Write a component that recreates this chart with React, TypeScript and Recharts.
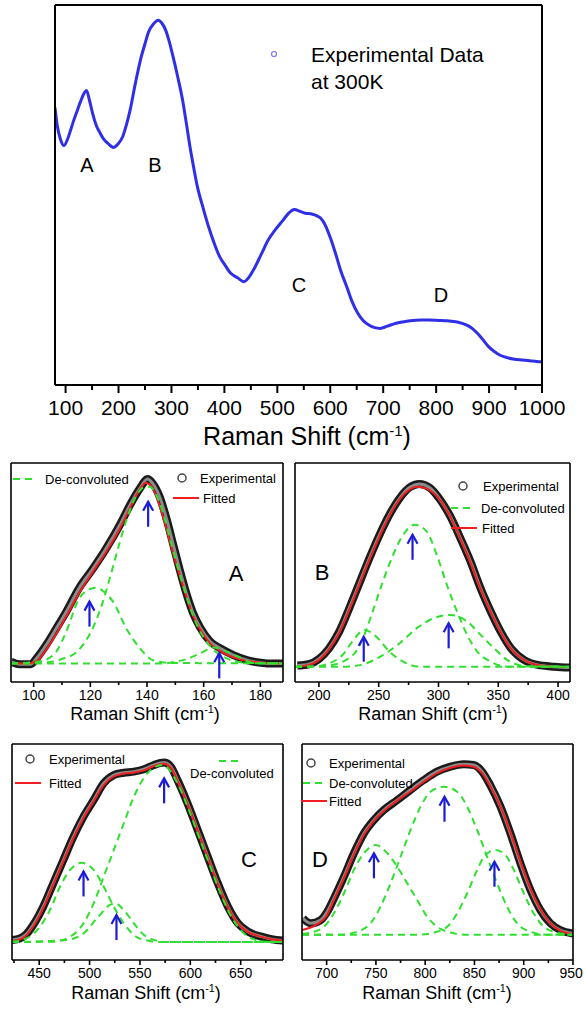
import React from 'react';
import { ComposedChart, Line, Scatter, XAxis, YAxis } from 'recharts';

type Pair = [number, number];

// ---- overview spectrum (Raman shift, intensity a.u.) ----
const overview: Pair[] = [
  [80, 73], [84, 68.5], [90, 64.8], [97, 63], [104, 64.8], [110, 67.3], [116, 69.9], [122, 72.2],
  [128, 74.5], [134, 76.5], [139.5, 77.5], [145, 75], [151, 71.5], [158, 68.3], [165.6, 66.2],
  [173, 64.5], [180, 63.6], [190, 62.5], [199, 63.4], [208, 65.4], [215, 68.5], [222, 72.4],
  [232, 79.5], [243, 86.4], [250, 89.8], [257, 93], [266, 95], [275, 96], [282, 95.2], [289, 93.4],
  [296, 90.3], [303, 86.4], [312, 81], [321, 75], [328, 69], [335, 62.7], [342, 57.2], [349, 52.2],
  [360, 46.5], [370, 41.7], [380, 37.6], [391, 33.8], [400, 31.8], [412, 29.4], [425, 28.2],
  [437, 27.2], [446, 28.3], [455, 30.3], [470, 34.5], [483, 38.2], [497, 41], [511, 43.4],
  [522, 45.3], [532, 46.2], [543, 45.7], [553, 45.2], [565, 45], [575, 44.5], [582, 43.9],
  [589, 42.5], [600, 38.8], [610, 34.6], [620, 30], [631, 25.9], [641, 22], [652, 18.9], [662, 17],
  [673, 15.8], [684, 15.1], [694, 14.9], [708, 15.5], [723, 16.2], [737, 16.6], [751, 16.9],
  [770, 17.1], [786, 17.1], [805, 17], [821, 16.9], [840, 16.6], [857, 15.8], [868, 14.9],
  [878, 13.6], [888, 12], [899, 10.1], [910, 8.8], [920, 7.9], [934, 7.2], [948, 6.8], [962, 6.6],
  [977, 6.4], [990, 6.2], [1000, 6.1],
];
const overviewTicks = [100, 200, 300, 400, 500, 600, 700, 800, 900, 1000];
const overviewMinor = [150, 250, 350, 450, 550, 650, 750, 850, 950];

// ---- band A ----
const aExp: Pair[] = [
  [92, 9.3], [95, 8.1], [99, 8.1], [101, 10.8], [104.4, 16.9], [108, 24.5], [111.5, 32.1], [116, 42.8],
  [121, 51.9], [125.6, 61], [130.4, 71.7], [134, 80.8], [137.5, 88.4], [140.2, 92.7], [142, 90.7],
  [144.5, 84.5], [147, 74], [149.3, 62.5], [151.6, 51], [154, 40], [156.4, 31], [158.7, 25],
  [162.3, 18.5], [165.8, 15.4], [170.5, 12.3], [175.3, 10], [178.8, 9], [182.4, 8.5], [188, 8.5],
];
const aFit: Pair[] = [
  [92, 8.5], [98, 8.5], [101, 9.5], [104, 14], [108, 22], [111.5, 30], [116, 40.5], [121, 50.5],
  [125.6, 59.5], [130.4, 70], [134, 79.5], [137, 87], [139.5, 91], [141.5, 89.5], [143.5, 84],
  [146, 74], [148.5, 62], [151, 51], [153.5, 40.5], [156, 31], [158.5, 24.5], [162, 18], [166, 14],
  [171, 11], [176, 9.5], [182, 8.7], [188, 8.5],
];
const aPeak1: Pair[] = [
  [92, 8.5], [105, 9], [110, 10.5], [115, 13.5], [118, 18], [121, 25], [124, 35], [127, 48], [130, 62],
  [133, 75], [136, 84.5], [139, 89], [141, 89.2], [143, 86], [145.5, 78], [148, 66], [150.5, 54],
  [153, 43], [155.5, 33], [158, 25], [161, 18.5], [164, 14], [167, 11.5], [171, 9.5], [176, 8.7],
  [188, 8.5],
];
const aPeak2: Pair[] = [
  [92, 8.5], [100, 9], [104, 10], [108, 13.9], [111.5, 23], [116, 38], [119, 42], [122, 43], [125, 41],
  [128, 36.7], [132.7, 24.5], [137.5, 15.4], [142, 10], [148, 8.7], [188, 8.5],
];
const aPeak3: Pair[] = [
  [92, 8.5], [145.7, 8.5], [149, 9], [154, 10.5], [158.7, 13], [163.5, 15.7], [168, 14], [173, 11],
  [177.6, 8.7], [182, 8.5], [188, 8.5],
];
const aArrows: Pair[] = [[119.7, 36.7], [140.4, 82.3], [165.5, 13.1]];

// ---- band B ----
const bExp: Pair[] = [
  [182, 7.5], [191.5, 8.1], [200, 10.5], [208.5, 15.4], [217, 23], [225.4, 33.7], [233.8, 45.1],
  [242.3, 56.6], [250.7, 67.2], [259, 76.4], [267.6, 84], [276, 88.9], [284, 90.4], [293, 88.6],
  [301.4, 83.2], [309.9, 75.6], [318.3, 65.7], [326.8, 55], [335.2, 42.8], [343.7, 32.2], [352, 23],
  [360.6, 15.4], [371.8, 10], [383, 7.8], [397, 7], [410, 6.6],
];
const bFit: Pair[] = [
  [182, 7], [191.5, 7.8], [200, 10], [208.5, 15], [217, 22.5], [225.4, 33], [233.8, 44.5], [242.3, 56],
  [250.7, 66.5], [259, 76], [267.6, 83.5], [276, 88], [282, 89.2], [290, 88.3], [301.4, 83],
  [309.9, 75.5], [318.3, 65.5], [326.8, 54.5], [335.2, 42.5], [343.7, 32], [352, 22.8], [360.6, 15.2],
  [371.8, 10], [383, 7.8], [397, 7], [410, 6.8],
];
const bPeak1: Pair[] = [
  [180, 7], [200, 7.2], [211.3, 7.8], [222.5, 10], [231, 13.9], [238, 21.5], [245, 32.2], [253.5, 45.9],
  [262, 58], [270.4, 67.2], [280.3, 71.8], [290, 68.8], [298.6, 58], [307, 44.4], [315.5, 32.2],
  [324, 21.5], [332.4, 13.9], [343.7, 9.3], [357.7, 7], [410, 7],
];
const bPeak2: Pair[] = [
  [180, 7], [194.4, 7], [208.5, 8.5], [219.7, 12.3], [228, 18.4], [238, 23.8], [248, 20.7], [259, 13.9],
  [270.4, 9.3], [284.5, 7], [410, 7],
];
const bPeak3: Pair[] = [
  [180, 7], [222.5, 7], [239.4, 8.5], [253.5, 12.3], [267.6, 17.7], [281.7, 24.5], [295.8, 29.1],
  [309.9, 30.6], [324, 27.6], [335.2, 21.5], [346.5, 15.4], [357.7, 10], [374.6, 7.2], [410, 7],
];
const bArrows: Pair[] = [[278.3, 67.2], [237.5, 20.7], [308.5, 26.8]];

// ---- band C ----
const cExp: Pair[] = [
  [423, 9.3], [430.7, 10], [437.3, 12], [444, 16.2], [454, 24.7], [464, 35.5], [474, 46.3], [484, 57.1],
  [494, 66.4], [504, 74], [514, 81.8], [524, 85.6], [534, 86.7], [544, 87.2], [554, 88.3], [564, 90.3],
  [574, 91.4], [580.7, 89.5], [587.3, 83.3], [597.3, 72.5], [607.3, 60.2], [617.3, 47.8],
  [627.3, 35.5], [637.3, 24.7], [647.3, 17], [657.3, 13.1], [670.7, 10.8], [680.7, 9.6], [692, 9],
];
const cFit: Pair[] = [
  [423, 8.8], [430.7, 9.5], [437.3, 11.5], [444, 15.5], [454, 24], [464, 35], [474, 45.8], [484, 56.5],
  [494, 65.8], [504, 73.5], [514, 81], [524, 85], [534, 86.3], [544, 86.8], [554, 87.8], [564, 89.8],
  [574, 90.8], [580.7, 89], [587.3, 83], [597.3, 72.2], [607.3, 60], [617.3, 47.5], [627.3, 35.2],
  [637.3, 24.5], [647.3, 17], [657.3, 13], [670.7, 10.7], [680.7, 9.6], [692, 9],
];
const cPeak1: Pair[] = [
  [423, 8.3], [464, 8.5], [480.7, 10.8], [494, 17], [504, 26.2], [514, 38.6], [524, 50.9], [534, 63.3],
  [544, 75.6], [557.3, 86.4], [572.3, 90.3], [587.3, 81.8], [597.3, 71], [607.3, 58.6], [617.3, 46.3],
  [627.3, 34], [637.3, 23.1], [647.3, 15.4], [657.3, 10.8], [674, 8.5], [692, 8.3],
];
const cPeak2: Pair[] = [
  [423, 8.5], [437.3, 10], [450.7, 15.4], [460.7, 23.1], [470.7, 34], [480.7, 41.7], [492.3, 45],
  [504, 41.7], [514, 34], [524, 24.7], [534, 17], [544, 11.6], [557.3, 9], [574, 8.3], [692, 8.3],
];
const cPeak3: Pair[] = [
  [423, 8.3], [477.3, 9.3], [494, 12.3], [507.3, 19.3], [520.7, 25.6], [525.7, 26.2], [534, 23.1],
  [544, 17], [554, 11.6], [564, 9.3], [577.3, 8.3], [692, 8.3],
];
const cArrows: Pair[] = [[494, 41], [526.7, 20.8], [574, 84.1]];

// ---- band D ----
const dExp: Pair[] = [
  [676, 19.3], [683.8, 17], [694, 18.5], [700.7, 22.4], [707.4, 28.5], [717.6, 38.6], [727.7, 49.4],
  [737.8, 58.6], [748, 64.8], [758, 69.4], [771.6, 74], [785, 78.7], [798.6, 83.3], [812, 87.2],
  [825.7, 89.5], [839, 90.6], [849.3, 90.3], [857.8, 87.2], [866, 81], [876.4, 71], [886.5, 58.6],
  [896.6, 44.8], [906.8, 32.4], [916.9, 23.1], [927, 17], [937, 13.9], [950, 12.3],
];
const dFit: Pair[] = [
  [675, 13.9], [690, 16.5], [700, 20.5], [707, 27.5], [717.6, 38], [727.7, 49], [737.8, 58], [748, 64.5],
  [758, 69], [771.6, 73.8], [785, 78], [798.6, 82.5], [812, 86.5], [825.7, 89], [839, 90], [849, 89.5],
  [857.8, 86.5], [866, 80.5], [876.4, 71], [886.5, 59], [896.6, 45.5], [906.8, 33], [916.9, 23.5],
  [927, 17], [937, 13.6], [950, 12],
];
const dPeak1: Pair[] = [
  [675, 12], [683.8, 12.7], [697.3, 15.4], [707.4, 21.6], [717.6, 30.9], [727.7, 41.7], [737.8, 49.4],
  [749.7, 53.2], [761.5, 49.4], [771.6, 43.2], [781.8, 35.5], [791.9, 27.8], [802, 20], [812.2, 15.4],
  [825.7, 12.7], [842.6, 11.7], [950, 11.7],
];
const dPeak2: Pair[] = [
  [675, 11.7], [714.2, 11.7], [731, 13.1], [744.6, 17], [754.7, 24.7], [764.9, 35.5], [775, 47.8],
  [785.1, 60.2], [795.3, 71], [805.4, 77.9], [818.9, 80.2], [832.4, 77.9], [842.6, 71], [852.7, 60.2],
  [862.8, 47.8], [873, 35.5], [883.1, 24.7], [893.2, 17], [906.8, 13.1], [923.6, 11.7], [950, 11.7],
];
const dPeak3: Pair[] = [
  [675, 11.7], [791.9, 11.7], [808.8, 12.7], [822.3, 15.4], [832.4, 21.6], [842.6, 30.9], [852.7, 41.7],
  [861.1, 48.6], [871.3, 50.9], [881.4, 48.6], [889.9, 41.7], [900, 30.9], [910.1, 21.6],
  [920.3, 15.4], [933.8, 12.7], [950, 11.7],
];
const dArrows: Pair[] = [[748, 49.4], [819.6, 75.6], [870.3, 45.5]];

const pts = (p: Pair[]) => p.map(([x, y]) => ({ x, y }));

const FONT = '"Liberation Sans", Arial, sans-serif';
const BLUE = '#2f2fe8';
const RED = '#f01e1e';
const GREEN = '#2fe02f';
const EXP_DARK = '#1b1b1b';
const EXP_LIGHT = '#8c8c8c';

function Arrow(props: any) {
  const { cx, cy } = props;
  if (cx == null || cy == null) return null;
  return (
    <g stroke="#1c1cd8" strokeWidth={2.2} fill="none">
      <line x1={cx} y1={cy} x2={cx} y2={cy + 25} />
      <polyline points={`${cx - 5},${cy + 9} ${cx},${cy} ${cx + 5},${cy + 9}`} />
    </g>
  );
}

// bottom tick: long line + label on majors, short line on minors
function makeTick(majors: number[], big: boolean) {
  const longLen = big ? 8 : 5;
  const shortLen = big ? 5 : 3;
  const gap = big ? 7 : 3;
  const fs = big ? 21 : 14;
  const sw = big ? 2 : 1.6;
  return (props: any) => {
    const { x, y, payload } = props;
    const major = majors.includes(payload.value);
    // keep the last label inside the page
    const lx = Math.min(x, 583 - props.offsetLeft - fs * 0.84);
    return (
      <g>
        <line x1={x} x2={x} y1={y} y2={y + (major ? longLen : shortLen)} stroke="#000" strokeWidth={sw} />
        {major && (
          <text x={isNaN(lx) ? x : lx} y={y + longLen + gap} dy="0.71em" textAnchor="middle" fontSize={fs} fill="#000">
            {payload.value}
          </text>
        )}
      </g>
    );
  };
}

function frame(domain: number[], ticks: number[], minor: number[], big = false, pageLeft = 0) {
  const sw = big ? 2 : 1.6;
  const axisLine = { stroke: '#000', strokeWidth: sw };
  const all = [...ticks, ...minor].sort((a, b) => a - b);
  const Tick = makeTick(ticks, big);
  return [
    <XAxis key="xb" xAxisId={0} type="number" dataKey="x" domain={domain} ticks={all} interval={0}
      allowDataOverflow height={30} tickSize={0} tickMargin={0} tickLine={false}
      tick={(props: any) => Tick({ ...props, offsetLeft: pageLeft })} axisLine={axisLine} />,
    <XAxis key="xt" xAxisId="top" orientation="top" mirror type="number" dataKey="x" domain={domain}
      ticks={ticks} interval={0} allowDataOverflow tickSize={big ? 8 : 5} tick={false}
      axisLine={axisLine} tickLine={{ stroke: '#000', strokeWidth: sw }} />,
    <YAxis key="yl" yAxisId={0} mirror type="number" domain={[0, 100]} allowDataOverflow tick={false}
      tickLine={false} axisLine={axisLine} />,
    <YAxis key="yr" yAxisId="right" orientation="right" mirror type="number" domain={[0, 100]}
      allowDataOverflow tick={false} tickLine={false} axisLine={axisLine} />,
  ];
}

interface PanelProps {
  left: number; top: number; width: number; height: number;
  margin: { top: number; right: number; bottom: number; left: number };
  domain: number[]; ticks: number[]; minor: number[];
  exp: Pair[]; fit: Pair[]; peaks: Pair[][]; arrows: Pair[];
}

function Panel(p: PanelProps) {
  return (
    <div style={{ position: 'absolute', left: p.left, top: p.top }}>
      <ComposedChart width={p.width} height={p.height} margin={p.margin}>
        {frame(p.domain, p.ticks, p.minor, false, p.left)}
        <Line data={pts(p.exp)} dataKey="y" type="monotone" stroke={EXP_DARK} strokeWidth={8} dot={false}
          isAnimationActive={false} />
        <Line data={pts(p.exp)} dataKey="y" type="monotone" stroke={EXP_LIGHT} strokeWidth={3} dot={false}
          isAnimationActive={false} />
        <Line data={pts(p.fit)} dataKey="y" type="monotone" stroke={RED} strokeWidth={2} dot={false}
          isAnimationActive={false} />
        {p.peaks.map((pk, i) => (
          <Line key={i} data={pts(pk)} dataKey="y" type="monotone" stroke={GREEN} strokeWidth={2}
            strokeDasharray="7 5" dot={false} isAnimationActive={false} />
        ))}
        <Scatter data={pts(p.arrows)} dataKey="y" shape={Arrow} isAnimationActive={false} />
      </ComposedChart>
    </div>
  );
}

function Title({ x, y, size }: { x: number; y: number; size: number }) {
  return (
    <text x={x} y={y} fontSize={size} textAnchor="middle" fill="#000">
      Raman Shift (cm
      <tspan dy={-size * 0.38} fontSize={size * 0.6}>-1</tspan>
      <tspan dy={size * 0.38}>)</tspan>
    </text>
  );
}

type Item = { kind: 'exp' | 'fit' | 'dec'; x: number; y: number; tx?: number; label?: string };

function Legend({ items }: { items: Item[] }) {
  return (
    <g>
      {items.map((it, i) => (
        <g key={i}>
          {it.kind === 'exp' && <circle cx={it.x} cy={it.y} r={4} fill="none" stroke="#444" strokeWidth={1.5} />}
          {it.kind === 'fit' && <line x1={it.x - 13} x2={it.x + 13} y1={it.y} y2={it.y} stroke={RED} strokeWidth={2} />}
          {it.kind === 'dec' && (
            <line x1={it.x - 12} x2={it.x + 12} y1={it.y} y2={it.y} stroke={GREEN} strokeWidth={2} strokeDasharray="7 5" />
          )}
          {it.label && <text x={it.tx} y={it.y + 5} fontSize={13} fill="#000">{it.label}</text>}
        </g>
      ))}
    </g>
  );
}

export default function App() {
  return (
    <div style={{ position: 'absolute', left: 0, top: 0, width: 584, height: 1009, background: '#fff', fontFamily: FONT }}>
      <div style={{ position: 'absolute', left: 0, top: 0 }}>
        <ComposedChart width={584} height={460} margin={{ top: 5, right: 42, bottom: 45, left: 55 }}>
          {frame([80, 1000], overviewTicks, overviewMinor, true)}
          <Line data={pts(overview)} dataKey="y" type="monotone" stroke={BLUE} strokeWidth={3} dot={false}
            isAnimationActive={false} />
        </ComposedChart>
      </div>

      <Panel left={0} top={455} width={292} height={270} margin={{ top: 8, right: 9, bottom: 13, left: 11 }}
        domain={[92, 188]} ticks={[100, 120, 140, 160, 180]} minor={[110, 130, 150, 170]}
        exp={aExp} fit={aFit} peaks={[aPeak1, aPeak2, aPeak3]} arrows={aArrows} />
      <Panel left={292} top={455} width={292} height={270} margin={{ top: 8, right: 14, bottom: 13, left: 3 }}
        domain={[180, 410]} ticks={[200, 250, 300, 350, 400]} minor={[225, 275, 325, 375]}
        exp={bExp} fit={bFit} peaks={[bPeak1, bPeak2, bPeak3]} arrows={bArrows} />
      <Panel left={0} top={730} width={292} height={279} margin={{ top: 14, right: 9, bottom: 19, left: 12 }}
        domain={[423, 692]} ticks={[450, 500, 550, 600, 650]} minor={[425, 475, 525, 575, 625, 675]}
        exp={cExp} fit={cFit} peaks={[cPeak1, cPeak2, cPeak3]} arrows={cArrows} />
      <Panel left={292} top={730} width={292} height={279} margin={{ top: 14, right: 11, bottom: 19, left: 10 }}
        domain={[675, 950]} ticks={[700, 750, 800, 850, 900, 950]} minor={[725, 775, 825, 875, 925]}
        exp={dExp} fit={dFit} peaks={[dPeak1, dPeak2, dPeak3]} arrows={dArrows} />

      <svg width={584} height={1009} style={{ position: 'absolute', left: 0, top: 0, pointerEvents: 'none' }}>
        {/* overview annotations */}
        <circle cx={274} cy={54} r={2.5} fill="none" stroke="#7777ff" strokeWidth={1.2} />
        <text x={311} y={62} fontSize={21}>Experimental Data</text>
        <text x={311} y={89} fontSize={21}>at 300K</text>
        <text x={87} y={172} fontSize={20} textAnchor="middle">A</text>
        <text x={155} y={172} fontSize={20} textAnchor="middle">B</text>
        <text x={299} y={292} fontSize={20} textAnchor="middle">C</text>
        <text x={441} y={302} fontSize={20} textAnchor="middle">D</text>
        <Title x={307} y={445} size={25} />

        {/* band panels */}
        <text x={236} y={581} fontSize={22} textAnchor="middle">A</text>
        <text x={322} y={580} fontSize={22} textAnchor="middle">B</text>
        <text x={249} y={867} fontSize={22} textAnchor="middle">C</text>
        <text x={320} y={867} fontSize={22} textAnchor="middle">D</text>
        <Title x={145} y={720} size={18} />
        <Title x={433} y={720} size={18} />
        <Title x={146} y={999} size={18} />
        <Title x={437} y={999} size={18} />

        <Legend items={[
          { kind: 'dec', x: 25, y: 479, tx: 45, label: 'De-convoluted' },
          { kind: 'exp', x: 182, y: 478, tx: 200, label: 'Experimental' },
          { kind: 'fit', x: 186, y: 498, tx: 203, label: 'Fitted' },
        ]} />
        <Legend items={[
          { kind: 'exp', x: 463, y: 486, tx: 483, label: 'Experimental' },
          { kind: 'dec', x: 463, y: 508, tx: 481, label: 'De-convoluted' },
          { kind: 'fit', x: 464, y: 528, tx: 482, label: 'Fitted' },
        ]} />
        <Legend items={[
          { kind: 'exp', x: 30, y: 759, tx: 49, label: 'Experimental' },
          { kind: 'fit', x: 28, y: 783, tx: 49, label: 'Fitted' },
          { kind: 'dec', x: 231, y: 761 },
        ]} />
        <text x={190} y={778} fontSize={13}>De-convoluted</text>
        <Legend items={[
          { kind: 'exp', x: 311, y: 763, tx: 329, label: 'Experimental' },
          { kind: 'dec', x: 315, y: 783, tx: 329, label: 'De-convoluted' },
          { kind: 'fit', x: 314, y: 801, tx: 329, label: 'Fitted' },
        ]} />
      </svg>
    </div>
  );
}
